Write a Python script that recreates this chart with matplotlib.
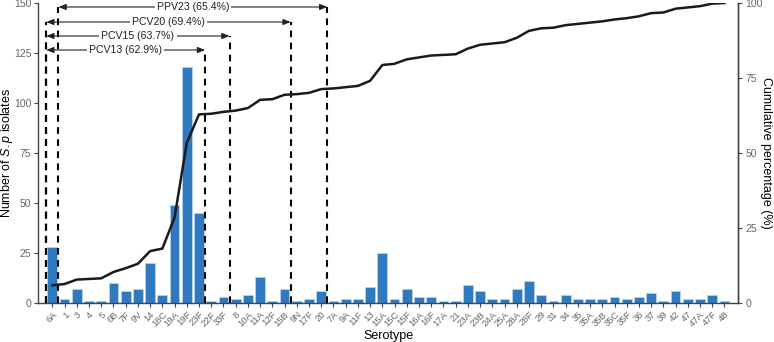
import numpy as np
import matplotlib.pyplot as plt

plt.rcParams['font.family'] = ['Liberation Sans', 'DejaVu Sans']
plt.rcParams['mathtext.fontset'] = 'custom'
plt.rcParams['mathtext.it'] = 'Liberation Sans:italic'
plt.rcParams['mathtext.rm'] = 'Liberation Sans'

# serotypes in plotting order and isolate counts
serotypes = ['6A', '1', '3', '4', '5', '6B', '7F', '9V', '14', '18C', '19A', '19F', '23F',
             '22F', '33F', '8', '10A', '11A', '12F', '15B', '9N', '17F', '20',
             '7A', '9A', '11F', '13', '15A', '15C', '15F', '16A', '16F', '17A', '21',
             '23A', '23B', '24A', '25A', '28A', '28F', '29', '31', '34', '35', '35A',
             '35B', '35C', '35F', '36', '37', '39', '42', '47', '47A', '47F', '48']
counts = [28, 2, 7, 1, 1, 10, 6, 7, 20, 4, 49, 118, 45,
          1, 3, 2, 4, 13, 1, 7, 1, 2, 6,
          1, 2, 2, 8, 25, 2, 7, 3, 3, 1, 1,
          9, 6, 2, 2, 7, 11, 4, 1, 4, 2, 2,
          2, 3, 2, 3, 5, 1, 6, 2, 2, 4, 1]

# vaccine coverage: label, first serotype, last serotype
vaccines = ['PPV23 (65.4%)', 'PCV20 (69.4%)', 'PCV15 (63.7%)', 'PCV13 (62.9%)']
vac_first = ['1', '6A', '6A', '6A']
vac_last = ['20', '15B', '33F', '23F']
arrow_y = [148, 140.5, 133.5, 126.5]

x = np.arange(len(serotypes))
counts = np.array(counts)
cum_pct = np.cumsum(counts) / counts.sum() * 100

fig = plt.figure(figsize=(7.74, 3.42), dpi=100)
ax = fig.add_axes([38.3 / 774, 39 / 342, 700 / 774, 300 / 342])

ax.bar(x, counts, width=0.8, color='#2f7abf', edgecolor='#b5d3ee', linewidth=0.6, zorder=2)
ax.set_xlim(-1.15, len(serotypes) - 1 + 1.13)
ax.set_ylim(0, 150)
ax.set_yticks([0, 25, 50, 75, 100, 125, 150])
ax.set_xticks(x)
ax.set_xticklabels(serotypes, rotation=45, ha='right', rotation_mode='anchor')

# vaccine brackets with dashed limits
for label, first, last, y in zip(vaccines, vac_first, vac_last, arrow_y):
    x0 = serotypes.index(first) - 0.5
    x1 = serotypes.index(last) + 0.5
    ax.vlines([x0, x1], 0, y, colors='black', linestyles=(0, (3.2, 2.6)), linewidth=1.5, zorder=3)
    ax.annotate('', xy=(x1, y), xytext=(x0, y),
                arrowprops=dict(arrowstyle='<|-|>,head_length=0.45,head_width=0.18',
                                color='#222222', lw=0.8, shrinkA=0, shrinkB=0), zorder=4)
    ax.text((x0 + x1) / 2, y, label, ha='center', va='center', fontsize=7.6, color='#222222',
            bbox=dict(facecolor='white', edgecolor='none', pad=1.5), zorder=5)

ax2 = ax.twinx()
ax2.plot(x, cum_pct, color='#1a1a1a', linewidth=1.8, zorder=6)
ax2.set_ylim(0, 100)
ax2.set_yticks([0, 25, 50, 75, 100])

for a in (ax, ax2):
    a.spines['top'].set_visible(False)
    for s in a.spines.values():
        s.set_color('#444444')
        s.set_linewidth(1.0)
    a.tick_params(colors='#444444', labelcolor='#666666', labelsize=7.5, length=3, width=0.8, pad=2)
ax.tick_params(axis='x', labelsize=6.8, pad=2)
ax2.spines['left'].set_visible(False)
ax2.spines['bottom'].set_visible(False)

ax.set_xlabel('Serotype', fontsize=9, labelpad=1)
ax.set_ylabel('Number of $\\mathit{S.p}$ isolates', fontsize=9, va='center')
ax2.set_ylabel('Cumulative percentage (%)', fontsize=9, rotation=270, va='center')
ax.yaxis.set_label_coords((7.5 - 38.3) / 700, 0.5)
ax2.yaxis.set_label_coords((766 - 38.3) / 700, 0.5)

fig.savefig('out.png', dpi=100)
